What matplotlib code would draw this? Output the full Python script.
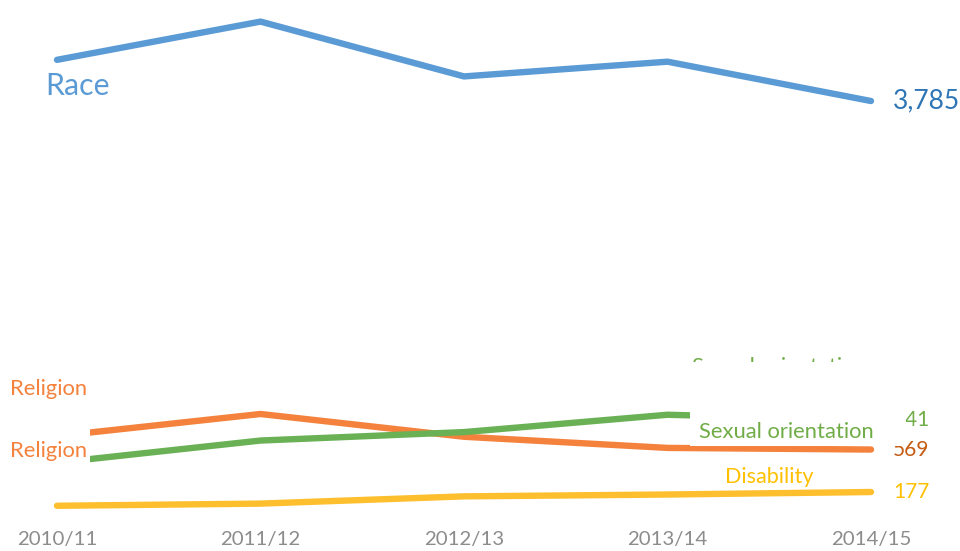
import matplotlib.pyplot as plt
from matplotlib.patches import Rectangle
from matplotlib.transforms import blended_transform_factory

plt.rcParams['font.family'] = ['Lato', 'DejaVu Sans']

# データ
years = ['2010/11', '2011/12', '2012/13', '2013/14', '2014/15']
race = [4165, 4518, 4012, 4148, 3785]
religion = [693, 897, 687, 584, 569]
sexual_orientation = [448, 652, 730, 890, 841]
disability = [50, 70, 137, 154, 177]

W, H = 960, 551
fig = plt.figure(figsize=(W / 100, H / 100), dpi=100)
ax = fig.add_axes([0, 0, 1, 1])
ax.set_axis_off()

# 画素位置に合わせた軸範囲
ax.set_xlim(-57 / 203.5, (W - 57) / 203.5)
ax.set_ylim((511.2 - H) / 0.10837, 511.2 / 0.10837)


def box(x0, y0, x1, y1):
    # 画素座標の白い四角（元図の重なり）
    r = Rectangle((x0 / W, 1 - y1 / H), (x1 - x0) / W, (y1 - y0) / H,
                  transform=ax.transAxes, facecolor='white', edgecolor='none', zorder=3)
    ax.add_patch(r)


x = range(len(years))
lw = 4.6
ax.plot(x, race, color='#5B9BD5', lw=lw, solid_capstyle='round', zorder=2)
ax.plot(x, religion, color='#F4823C', lw=lw, solid_capstyle='round', zorder=2)
ax.plot(x, sexual_orientation, color='#6AB155', lw=lw, solid_capstyle='round', zorder=2)
ax.plot(x, disability, color='#FDBF2D', lw=lw, solid_capstyle='round', zorder=2)

box(0, 400, 90, 468)
box(690, 362, 906, 446)

last = len(years) - 1
dx = 0.108
ax.text(last + dx, race[-1], f'{race[-1]:,}', color='#2E75B6', fontsize=19, va='center', zorder=4)
ax.text(last + dx, sexual_orientation[-1], f'{sexual_orientation[-1]:,}', color='#70AD47', fontsize=15, va='center', zorder=2)
ax.text(last + dx, religion[-1], f'{religion[-1]:,}', color='#C55A11', fontsize=15, va='center', zorder=2)
ax.text(last + dx, disability[-1], f'{disability[-1]:,}', color='#FFC000', fontsize=15, va='center', zorder=4)

ax.text(-0.059, 3924, 'Race', color='#5B9BD5', fontsize=21.8, va='center', zorder=4)
ax.text(-0.231, 1128, 'Religion', color='#F4823C', fontsize=15.8, va='center', zorder=2)
ax.text(-0.231, 555, 'Religion', color='#F4823C', fontsize=15.8, va='center', zorder=4)
ax.text(3.120, 1331, 'Sexual orientation', color='#70AD47', fontsize=15.8, va='center', zorder=2)
ax.text(3.155, 731, 'Sexual orientation', color='#70AD47', fontsize=15.8, va='center', zorder=4)
ax.text(3.283, 316, 'Disability', color='#FFC000', fontsize=15.6, va='center', zorder=4)

trans = blended_transform_factory(ax.transData, ax.transAxes)
for i, yr in enumerate(years):
    ax.text(i, 1 - 540 / H, yr, color='#8C8C8C', fontsize=14.7, ha='center', va='center', transform=trans)

fig.savefig('out.png', dpi=100)
